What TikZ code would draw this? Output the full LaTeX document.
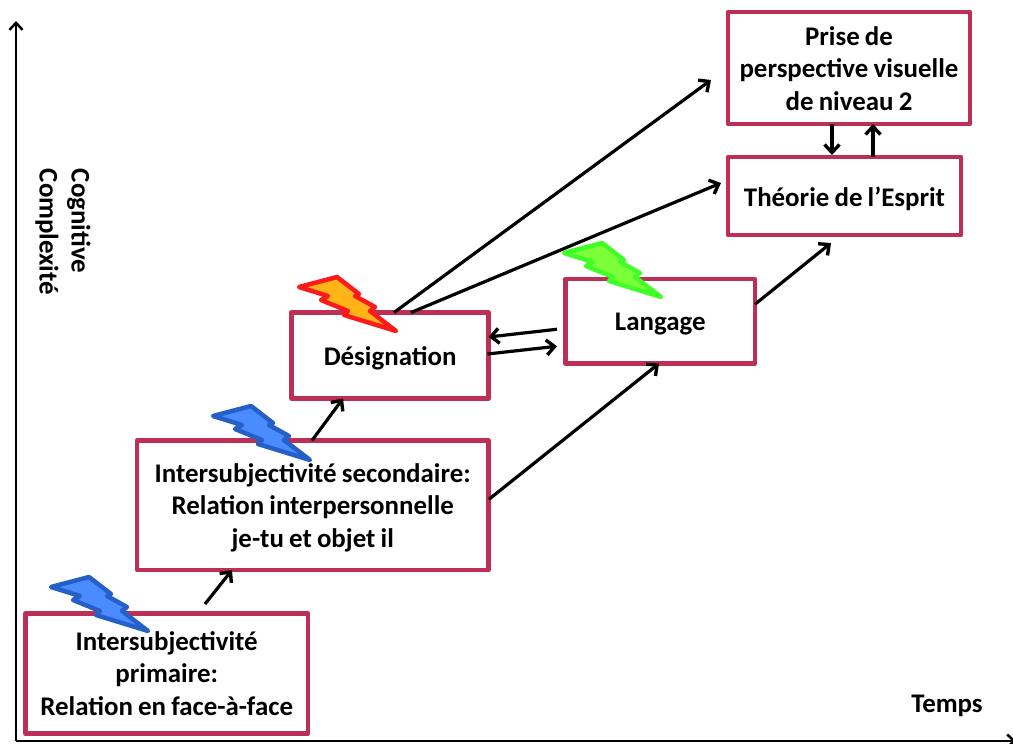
\documentclass[tikz,border=0pt]{standalone}
\usepackage{fontspec}
\setmainfont{Carlito}[WordSpace=0.85]
\usetikzlibrary{arrows.meta,calc}
\definecolor{boxred}{HTML}{BE2F55}
\definecolor{bluefill}{HTML}{4A8CFF}
\definecolor{blueline}{HTML}{2560C8}
\definecolor{redline}{HTML}{FF1A1A}
\definecolor{orangefill}{HTML}{FFB515}
\definecolor{greenline}{HTML}{40FF28}
\definecolor{greenfill}{HTML}{7CFF38}
\newcommand\dropped[2]{\raisebox{0pt}[\dimexpr\height+#1pt\relax]{#2}}
\tikzset{
  x=1pt,y=-1pt,
  boxnode/.style={draw=boxred,line width=4.5pt,line join=round,align=center,anchor=center,outer sep=0pt,inner sep=0pt,font=\fontsize{26.9}{32.5}\selectfont\bfseries},
  label/.style={inner sep=0pt,align=left,font=\fontsize{26.9}{32}\selectfont\bfseries},
  link/.style={line width=3.2pt,-{Straight Barb[length=8pt,width=15pt,line width=3.4pt]}},
  axis/.style={line width=2.5pt,-{Straight Barb[length=7pt,width=13pt,line width=2.5pt]}},
  bolt/.pic={\path[pic actions,line width=4.5pt,line join=round]
    (0,0)--(38,-10)--(60,7)--(56,9)--(76,20)--(71,24)--(97,44)--(45,28)--(49,24)--(22,13)--(29,9)--cycle;}
}
\begin{document}
\begin{tikzpicture}
\useasboundingbox (0,0) rectangle (1013,744);
\coordinate (origin) at (16,741);
\coordinate (ytop) at (16,21);
\coordinate (xend) at (1016,741);
\draw[axis] (origin) -- (ytop);
\draw[axis] (origin) -- (xend);

\node[boxnode,minimum width=282.5pt,minimum height=120pt] (A) at (166.75,673.5) {Intersubjectivité\\primaire:\\Relation en face-à-face};
\node[boxnode,minimum width=351.5pt,minimum height=129.5pt] (B) at (312.75,505.25) {\dropped{5}{Intersubjectivité secondaire:}\\Relation interpersonnelle\\je-tu et objet il};
\node[boxnode,minimum width=196.8pt,minimum height=86pt] (C) at (390.1,355.5) {\dropped{6}{Désignation}};
\node[boxnode,minimum width=189.5pt,minimum height=84.5pt] (D) at (660.25,321.25) {\dropped{6}{Langage}};
\node[boxnode,minimum width=233pt,minimum height=78pt] (E) at (844.5,196) {\dropped{6}{Théorie de l’Esprit}};
\node[boxnode,minimum width=242pt,minimum height=112pt] (F) at (849,68) {\dropped{1}{Prise de}\\perspective visuelle\\de niveau 2};

\pic[draw=blueline,fill=bluefill] at (51,587) {bolt};
\pic[draw=blueline,fill=bluefill] at (213,416) {bolt};
\pic[draw=redline,fill=orangefill] at (299,287) {bolt};
\pic[draw=greenline,fill=greenfill] at (564,253) {bolt};

\draw[link] ($(A.north west)+(179.5,-9.5)$) -- ($(B.south west)+(95,0)$);
\draw[link] ($(B.north west)+(175,0)$) -- ($(C.south west)+(51.3,0)$);
\draw[link] ($(B.east)+(0.5,-6)$) -- ($(D.south west)+(93.5,0)$);
\draw[link] ($(C.east)+(-1,-1.5)$) -- ($(D.west)+(-8.5,25)$);
\draw[link] ($(D.west)+(-8.5,8)$) -- ($(C.east)+(0,-18.5)$);
\draw[link] ($(C.north west)+(102.3,0)$) -- ($(F.south west)+(-17,-44)$);
\draw[link] ($(C.north west)+(119.3,0)$) -- ($(E.west)+(-7,-13)$);
\draw[link] ($(D.east)+(0,-17)$) -- ($(E.south west)+(103,8)$);
\draw[link] ($(F.south west)+(104,0)$) -- ($(E.north west)+(104,-2)$);
\draw[link] ($(E.north west)+(145,0)$) -- ($(F.south west)+(145,0)$);

\node[label,rotate=-90] (ylabel) at (63,232) {Cognitive\\Complexité};
\node[label] (xlabel) at (947,706) {Temps};
\end{tikzpicture}
\end{document}
